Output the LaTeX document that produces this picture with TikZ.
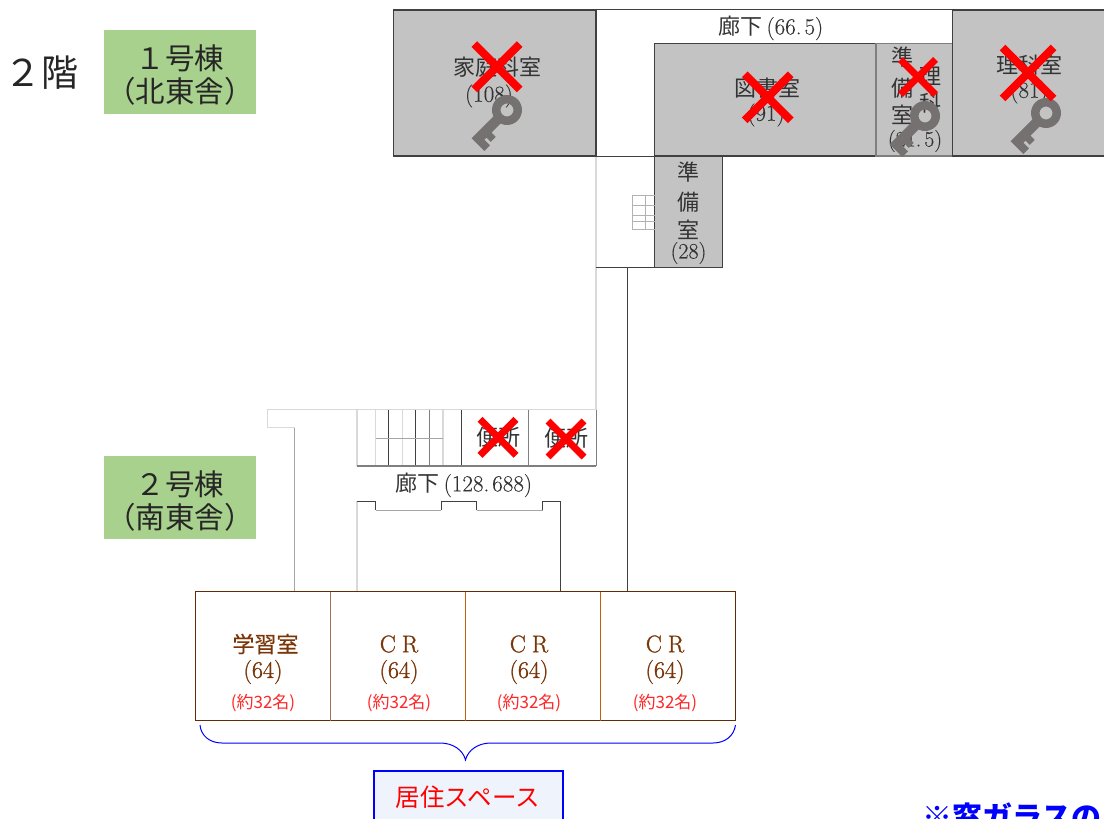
\documentclass[tikz,border=0pt]{standalone}
\usepackage{fontspec}
\newfontfamily\cjk{Noto Sans CJK JP}
\newfontfamily\cjkm[FakeBold=0.5]{Noto Sans CJK JP}
\newfontfamily\num[FakeBold=0.3]{Latin Modern Roman}
\newfontfamily\numb[FakeBold=1.2]{Latin Modern Roman}
\definecolor{roomgray}{HTML}{C3C3C3}
\definecolor{keygray}{HTML}{767171}
\definecolor{wallD}{HTML}{404040}
\definecolor{wallM}{HTML}{7F7F7F}
\definecolor{wallL}{HTML}{D9D9D9}
\definecolor{greenbox}{HTML}{A9D18E}
\definecolor{crbrown}{HTML}{7A3608}
\definecolor{crline}{HTML}{C55A11}
\definecolor{paleblue}{HTML}{EFF4FC}
\definecolor{txt}{HTML}{333333}
\newcommand{\fs}[1]{\fontsize{#1bp}{#1bp}\selectfont}
\newcommand{\fwa}{\char"FF11 }
\newcommand{\fwb}{\char"FF12 }
\newcommand{\fwl}{\char"FF08 }
\newcommand{\fwr}{\char"FF09 }
\tikzset{
  room/.style={draw=wallD,fill=roomgray,line width=1.1bp},
  lbl/.style={inner sep=0pt,text=txt,font=\num\fs{23}},
  sm/.style={inner sep=0pt,text=txt,font=\num\fs{22}},
  title/.style={inner sep=0pt,text=black!85,font=\cjk\fs{29.5},align=center},
  greenpanel/.style={fill=greenbox,minimum width=152bp,inner sep=0pt},
  crt/.style={inner sep=0pt,text=crbrown,font=\numb\fs{24}},
  capt/.style={inner sep=0pt,text=red!85,font=\cjk\fs{17}},
  wD/.style={draw=wallD,line width=1bp},
  wM/.style={draw=wallM,line width=1bp},
  wL/.style={draw=wallL,line width=1.2bp},
  pics/redx/.style 2 args={code={
    \draw[red,line width=#2bp] (-#1,-#1) -- (#1,#1) (-#1,#1) -- (#1,-#1);
  }},
  pics/roomkey/.style={code={
    \fill[keygray,even odd rule,x={(-0.707bp,-0.707bp)},y={(0.707bp,-0.707bp)}]
      (0,0) circle[radius=15] (0,0) circle[radius=6.5];
    \fill[keygray,x={(-0.707bp,-0.707bp)},y={(0.707bp,-0.707bp)}]
      (12,-5) -- (45,-5) -- (45,13) -- (37,13) -- (37,5) -- (34,5) -- (34,11) -- (27,11) -- (27,5) -- (12,5) -- cycle;
  }}
}
\begin{document}
\begin{tikzpicture}[x=1bp,y=-1bp]
\useasboundingbox (0,0) rectangle (1104,819);
\clip (0,0) rectangle (1104,819);
% headings
\node[inner sep=0pt,font=\cjk\fs{37},text=black!85] (floor) at (41,73) {\fwb 階};
\node[greenpanel,minimum height=84bp] (bldgA) at (180,72) {};
\node[greenpanel,minimum height=83bp] (bldgB) at (180,497.5) {};
\node[title] (bldgAt) at (180,75.5) {\fwa 号棟\\[3.5bp]\fwl 北東舎\fwr};
\node[title] (bldgBt) at (180,501.5) {\fwb 号棟\\[3.5bp]\fwl 南東舎\fwr};
% north wing walls
\draw[wD] (596,10) rectangle (952.5,156);
\draw[wL] (596,156) -- (596,410);
\draw[wD] (596,267.5) -- (654.5,267.5);
\draw[wD] (627.5,267.5) -- (627.5,591.5);
% north wing rooms
\filldraw[room] (393.5,10) rectangle (596,156);
\filldraw[room] (654.5,43.5) rectangle (876,156);
\filldraw[room,draw=wallM] (876,43.5) rectangle (952.5,156);
\filldraw[room] (952.5,10) rectangle (1110,156);
\filldraw[room] (654.5,156) rectangle (722.5,267.5);
% small stair
\draw[draw=wallM!60,line width=.7bp] (654.5,195) -- (632.3,195) -- (632.3,229.5) -- (654.5,229.5)
  (632.3,205) -- (654.5,205) (632.3,215) -- (654.5,215) (632.3,221.7) -- (654.5,221.7)
  (645,195) -- (645,229.5);
% south wing walls
\draw[wL] (596,409.5) -- (267.5,409.5) -- (267.5,427.5) -- (294.5,427.5);
\draw[draw=black!35,line width=1bp] (294.5,427.5) -- (294.5,591.5);
\draw[wL] (357,409.5) -- (357,466);
\draw[wL] (375.7,409.5) -- (375.7,466) (402.3,409.5) -- (402.3,466) (443,409.5) -- (443,466);
\draw[wM] (429.3,409.5) -- (429.3,466) (528.7,409.5) -- (528.7,466) (596,409.5) -- (596,466);
\draw[wD] (388.7,409.5) -- (388.7,466) (415.7,409.5) -- (415.7,466) (461,409.5) -- (461,466);
\draw[draw=wallM!70,line width=.8bp] (375.7,438.3) -- (443,438.3);
\draw[draw=wallM,line width=1.2bp] (357,466) -- (596,466);
\draw[wL] (357,591.5) -- (357,501);
\draw[wD] (357,501) -- (375.7,501) -- (375.7,510);
\draw[draw=black!35,line width=1bp] (375.7,510) -- (441,510);
\draw[wD] (441,510) -- (441,501) -- (476.7,501) -- (476.7,510);
\draw[draw=black!35,line width=1bp] (476.7,510) -- (542.7,510);
\draw[wD] (542.7,510) -- (542.7,501) -- (560.3,501) -- (560.3,591.5);
% residence rooms
\draw[draw=crbrown!80!black,line width=1bp] (195.5,591.5) rectangle (735.5,720.5);
\draw[draw=crbrown!70,line width=1bp] (330.5,591.5) -- (330.5,720.5);
\draw[draw=crline,line width=1.5bp] (465.5,591.5) -- (465.5,720.5) (600.5,591.5) -- (600.5,720.5);
% labels
\node[lbl] (roomHome) at (495.5,67.5) {\cjk\fs{22} 家庭科室};
\node[lbl] (roomHomeN) at (489,96) {(108)};
\node[lbl] (corrN) at (768.5,28) {{\cjk\fs{22} 廊下}\,(66.\kern3bp 5)};
\node[lbl] (roomLib) at (765.5,88.5) {\cjk\fs{22} 図書室};
\node[lbl] (roomLibN) at (766,115) {(91)};
\node[sm] (p1) at (902,57) {\cjk 準};
\node[sm] (p2) at (902,88) {\cjk 備};
\node[sm] (p3) at (902,115) {\cjk 室};
\node[sm] (p4) at (930,76) {\cjk 理};
\node[sm] (p5) at (930,103) {\cjk 科};
\node[sm] (p6) at (915,141) {(21.\kern3bp 5)};
\node[lbl] (roomSci) at (1027,65.5) {\cjk\fs{22} 理科室};
\node[lbl] (roomSciN) at (1029,92) {(81)};
\node[sm] (q1) at (688,172) {\cjk 準};
\node[sm] (q2) at (688,202) {\cjk 備};
\node[sm] (q3) at (688,230) {\cjk 室};
\node[sm] (q4) at (688.5,253) {(28)};
\node[lbl] (wcA) at (496,437) {\cjk\fs{22} 便所};
\node[lbl] (wcB) at (564,438) {\cjk\fs{22} 便所};
\node[lbl] (corrS) at (461.5,485) {{\cjk\fs{22} 廊下}\,(128.\kern3bp 688)};
\node[crt] (crA) at (263,644) {\cjkm\fs{22} 学習室};
\node[crt] (crAn) at (263,672) {(64)};
\node[capt] (crAc) at (263,703) {(約32名)};
\node[crt] (crB) at (399,644) {C\kern6bp R};
\node[crt] (crBn) at (399,672) {(64)};
\node[capt] (crBc) at (399,703) {(約32名)};
\node[crt] (crC) at (529,644) {C\kern6bp R};
\node[crt] (crCn) at (529,672) {(64)};
\node[capt] (crCc) at (529,703) {(約32名)};
\node[crt] (crD) at (665,644) {C\kern6bp R};
\node[crt] (crDn) at (665,672) {(64)};
\node[capt] (crDc) at (665,703) {(約32名)};
% keys and crosses
\pic at (507,110) {roomkey};
\pic at (925,116) {roomkey};
\pic at (1046,113) {roomkey};
\pic at (497,66.7) {redx={22.7}{8}};
\pic at (767.7,97.3) {redx={23}{8}};
\pic at (918,77) {redx={17.5}{7}};
\pic at (1028,73) {redx={25.5}{8}};
\pic at (498,437.3) {redx={18}{7}};
\pic at (566,439) {redx={18}{7}};
% brace
\draw[blue,line width=1bp] (200,725) .. controls (201,736) and (210,743) .. (222,743) -- (440,743)
  .. controls (453,743) and (463,750) .. (465.5,760)
  .. controls (468,750) and (478,743) .. (491,743) -- (713,743)
  .. controls (725,743) and (734,736) .. (735.5,725);
% residence box
\node[draw=blue,fill=paleblue,line width=2bp,minimum width=189bp,minimum height=60bp,inner sep=0pt,anchor=north] (living) at (468,769.5) {};
\node[inner sep=0pt,text=red,font=\cjk\fs{24.5}] (livingT) at (468,797) {居住スペース};
\node[inner sep=0pt,anchor=west,text=blue,font=\cjk\bfseries\fs{30}] (note) at (922,817) {※窓ガラスの};
\end{tikzpicture}
\end{document}
